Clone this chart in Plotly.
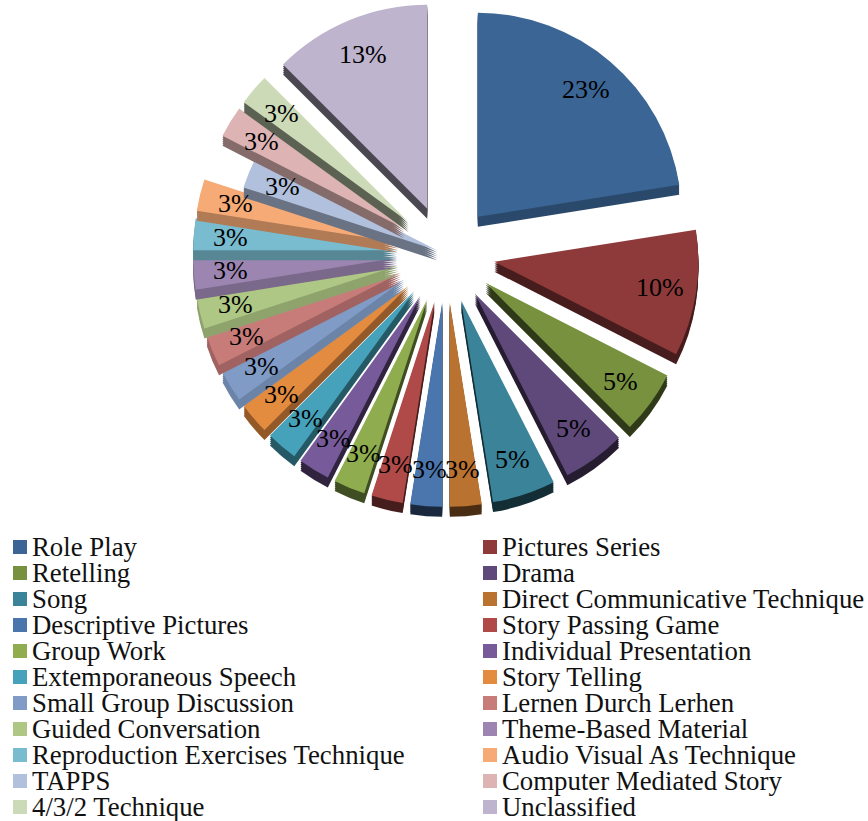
import math
import plotly.graph_objects as go

WIDTH, HEIGHT = 868, 821

# Number of occurrences per technique (n = 40), in chart order
techniques = [
    "Role Play", "Pictures Series", "Retelling", "Drama", "Song",
    "Direct Communicative Technique", "Descriptive Pictures", "Story Passing Game",
    "Group Work", "Individual Presentation", "Extemporaneous Speech", "Story Telling",
    "Small Group Discussion", "Lernen Durch Lerhen", "Guided Conversation",
    "Theme-Based Material", "Reproduction Exercises Technique", "Audio Visual As Technique",
    "TAPPS", "Computer Mediated Story", "4/3/2 Technique", "Unclassified",
]
counts = [9, 4, 2, 2, 2, 1, 1, 1, 1, 1, 1, 1, 1, 1, 1, 1, 1, 1, 1, 1, 1, 5]
face_colors = [
    "#3B6595", "#8E3A3A", "#77913F", "#5F497A", "#3A8399", "#B9722F",
    "#4A76AD", "#AF4A48", "#8FAD4E", "#775A9A", "#45A2BA", "#E38B3E",
    "#7F9BC6", "#C87C7A", "#AEC785", "#9C86B1", "#79BBCF", "#F6AB77",
    "#B1C0DC", "#DDB4B3", "#CDDAB8", "#BEB4CE",
]
# Brightness of each slice's side wall relative to its top face
wall_shades = [0.72, 0.50, 0.40, 0.40, 0.35, 0.40, 0.35, 0.40, 0.45, 0.40, 0.55,
               0.65, 0.85, 0.80, 0.82, 0.78, 0.72, 0.72, 0.60, 0.60, 0.45, 0.40]
# Slice explosion, as a fraction of the radius
EXPLODE = 0.24
pulls = [EXPLODE] * len(counts)
pulls[techniques.index("TAPPS")] = 0.045

CENTER_X, CENTER_Y = 446, 254
RADIUS = 204
WALL_DEPTH = 10
WALL_STEP = 2
LABEL_RADIUS = 0.82

total = sum(counts)


def shade(hex_color, k):
    r, g, b = (int(hex_color[i:i + 2], 16) for i in (1, 3, 5))
    return f"rgb({round(r * k)},{round(g * k)},{round(b * k)})"


def wedge(index, color, dy):
    """One slice as a pie whose remainder is transparent, shifted down by dy pixels."""
    half = RADIUS * (1 + EXPLODE)
    start = sum(counts[:index]) / total * 360
    cy = CENTER_Y + dy
    return go.Pie(
        values=[counts[index], total - counts[index]],
        sort=False,
        direction="clockwise",
        rotation=start,
        pull=[pulls[index], EXPLODE],
        marker=dict(colors=[color, "rgba(0,0,0,0)"], line=dict(width=0)),
        textinfo="none",
        hoverinfo="skip",
        showlegend=False,
        domain=dict(
            x=[(CENTER_X - half) / WIDTH, (CENTER_X + half) / WIDTH],
            y=[1 - (cy + half) / HEIGHT, 1 - (cy - half) / HEIGHT],
        ),
    )


def mid_angle(index):
    return math.radians((sum(counts[:index]) + counts[index] / 2) / total * 360)


fig = go.Figure()

# Paint from the bottom of the pie to the top so each wall stays visible
order = sorted(range(len(counts)), key=lambda i: math.cos(mid_angle(i)))
for i in order:
    for dy in range(WALL_DEPTH, 0, -WALL_STEP):
        fig.add_trace(wedge(i, shade(face_colors[i], wall_shades[i]), dy))
    fig.add_trace(wedge(i, face_colors[i], 0))

annotations = []
shapes = []

# Percentage labels sit at a fixed distance inside each slice's outer edge
for i, n in enumerate(counts):
    a = mid_angle(i)
    r = RADIUS * (pulls[i] + LABEL_RADIUS)
    px = CENTER_X + r * math.sin(a)
    py = CENTER_Y - r * math.cos(a)
    pct = math.floor(n / total * 100 + 0.5)
    annotations.append(dict(
        x=px / WIDTH, y=1 - py / HEIGHT, xref="paper", yref="paper",
        text=f"{pct}%", showarrow=False, xanchor="center", yanchor="middle",
        font=dict(family="Liberation Serif", size=26, color="#000000"),
    ))

# Two-column key underneath the pie
COLUMN_X = [13, 483]
TEXT_GAP = 17
ROW_TOP, ROW_PITCH = 547, 26
SWATCH = 14
for i, name in enumerate(techniques):
    x = COLUMN_X[i % 2]
    y = ROW_TOP + ROW_PITCH * (i // 2)
    shapes.append(dict(
        type="rect", xref="paper", yref="paper", layer="above",
        x0=x / WIDTH, x1=(x + SWATCH) / WIDTH,
        y0=1 - (y + SWATCH / 2) / HEIGHT, y1=1 - (y - SWATCH / 2) / HEIGHT,
        fillcolor=face_colors[i], line=dict(width=0),
    ))
    annotations.append(dict(
        x=(x + TEXT_GAP) / WIDTH, y=1 - y / HEIGHT, xref="paper", yref="paper",
        text=name, showarrow=False, xanchor="left", yanchor="middle",
        font=dict(family="Liberation Serif", size=26.8, color="#111111"),
    ))

fig.update_layout(
    width=WIDTH, height=HEIGHT,
    margin=dict(l=0, r=0, t=0, b=0),
    paper_bgcolor="white",
    showlegend=False,
    annotations=annotations,
    shapes=shapes,
)

fig.write_html("out.html")
